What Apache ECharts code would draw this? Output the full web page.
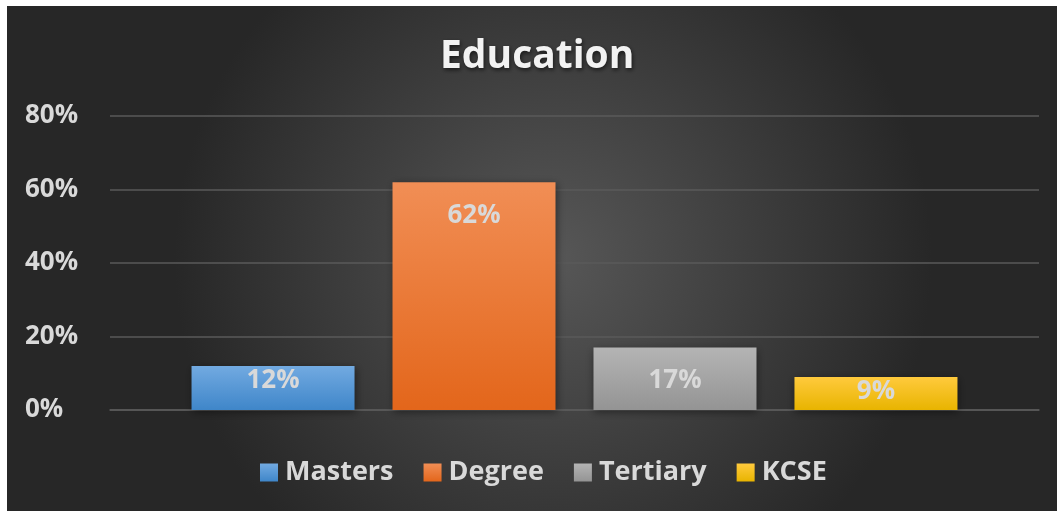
<!DOCTYPE html>
<html>
<head>
<meta charset="utf-8">
<script src="https://cdn.jsdelivr.net/npm/echarts@6/dist/echarts.min.js"></script>
<style>
  html, body { margin: 0; padding: 0; background: #ffffff; width: 1057px; height: 511px; overflow: hidden; }
  #chart { position: absolute; left: 7px; top: 6px; width: 1050px; height: 505px; }
</style>
</head>
<body>
<div id="chart"></div>
<script>
const titleText = 'Education';
const categories = ['Masters', 'Degree', 'Tertiary', 'KCSE'];
const values = [0.12, 0.62, 0.17, 0.09];
const yTicks = [0, 0.2, 0.4, 0.6, 0.8];
const gradients = [
  ['#72aae1', '#3f86c9'],
  ['#f18e55', '#e3661b'],
  ['#b4b4b4', '#949494'],
  ['#ffca3d', '#e8b400']
];

const FONT = '"Open Sans", "Noto Sans", sans-serif';
const chart = echarts.init(document.getElementById('chart'), null, { renderer: 'canvas' });

const series = categories.map((name, i) => ({
  name: name,
  type: 'bar',
  data: [values[i]],
  barWidth: 163,
  barGap: '23.3%',
  itemStyle: {
    color: new echarts.graphic.LinearGradient(0, 0, 0, 1, [
      { offset: 0, color: gradients[i][0] },
      { offset: 1, color: gradients[i][1] }
    ]),
    shadowColor: 'rgba(0,0,0,0.45)',
    shadowBlur: 8,
    shadowOffsetX: 1,
    shadowOffsetY: 2
  },
  label: {
    show: true,
    position: 'insideTop',
    distance: values[i] > 0.15 ? 20 : 2,
    formatter: p => Math.round(p.value * 100) + '%',
    color: '#d9d9d9',
    fontFamily: FONT,
    fontWeight: 'bold',
    fontSize: 26
  }
}));

chart.setOption({
  backgroundColor: new echarts.graphic.RadialGradient(0.52, 0.5, 0.75, [
    { offset: 0, color: '#575757' },
    { offset: 1, color: '#272727' }
  ]),
  animation: false,
  title: {
    text: titleText,
    left: 428,
    top: 26,
    textStyle: {
      color: '#f2f2f2',
      fontFamily: FONT,
      fontWeight: 'bold',
      fontSize: 39,
      textShadowColor: 'rgba(0,0,0,0.6)',
      textShadowBlur: 4,
      textShadowOffsetX: 1,
      textShadowOffsetY: 2
    }
  },
  legend: {
    data: categories,
    bottom: 20,
    left: 248,
    icon: 'rect',
    itemWidth: 18,
    itemHeight: 18,
    itemGap: 30,
    textStyle: {
      color: '#d9d9d9',
      fontFamily: FONT,
      fontWeight: 'bold',
      fontSize: 27,
      padding: [0, 0, 0, 2]
    }
  },
  grid: { left: 103, right: 18, top: 110, bottom: 101, containLabel: false },
  xAxis: {
    type: 'category',
    data: [titleText],
    axisLine: { show: true, lineStyle: { color: '#5a5a5a', width: 1.5 } },
    axisTick: { show: false },
    axisLabel: { show: false }
  },
  yAxis: {
    type: 'value',
    min: yTicks[0],
    max: yTicks[yTicks.length - 1],
    interval: yTicks[1] - yTicks[0],
    axisLine: { show: false },
    axisTick: { show: false },
    splitLine: { lineStyle: { color: '#5a5a5a', width: 1.5 } },
    axisLabel: {
      formatter: v => Math.round(v * 100) + '%',
      color: '#d9d9d9',
      fontFamily: FONT,
      fontWeight: 'bold',
      fontSize: 26,
      align: 'left',
      margin: 85
    }
  },
  series: series
});
</script>
</body>
</html>
